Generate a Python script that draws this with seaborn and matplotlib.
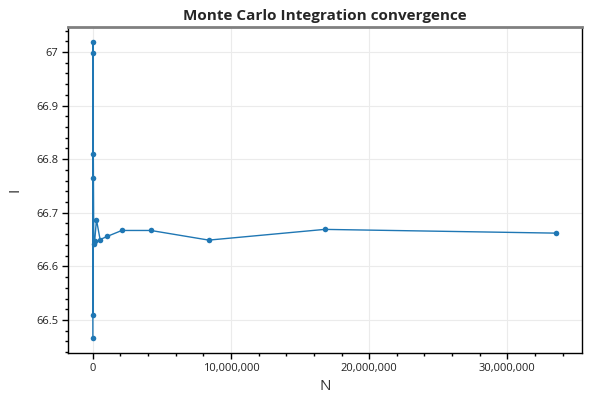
import matplotlib
matplotlib.use("Agg")
import matplotlib.pyplot as plt
import seaborn as sns
import pandas as pd
from matplotlib.ticker import AutoMinorLocator, FuncFormatter, MultipleLocator

N = [1024, 2048, 4096, 8192, 16384, 32768, 65536, 131072, 262144, 524288,
     1048576, 2097152, 4194304, 8388608, 16777216, 33554432]
I = [66.466, 67.019, 66.510, 66.998, 66.765, 66.810, 66.642, 66.647, 66.687, 66.650,
     66.656, 66.667, 66.667, 66.649, 66.669, 66.662]

df = pd.DataFrame({"N": N, "I": I})

sns.set_style("white")
plt.rcParams['font.family'] = ['Open Sans', 'DejaVu Sans']

fig = plt.figure(figsize=(6, 4), dpi=100)
ax = fig.add_axes([0.1133, 0.1175, 0.8567, 0.815])

sns.lineplot(data=df, x="N", y="I", ax=ax, color="#1f77b4", linewidth=1,
             marker="o", markersize=4, markeredgewidth=0, sort=False)

ax.set_xlim(-1.8e6, 35.4e6)
ax.grid(True, which="major", color="#ebebeb", linewidth=0.8)
ax.set_axisbelow(True)
ax.xaxis.set_major_locator(MultipleLocator(1e7))
ax.xaxis.set_major_formatter(FuncFormatter(lambda v, p: f"{int(round(v)):,}"))
ax.yaxis.set_major_locator(MultipleLocator(0.1))
ax.yaxis.set_major_formatter(FuncFormatter(lambda v, p: f"{v:g}"))
ax.xaxis.set_minor_locator(AutoMinorLocator(5))
ax.yaxis.set_minor_locator(AutoMinorLocator(5))
ax.tick_params(which="major", direction="out", length=4, width=1, color="black",
               labelsize=8, labelcolor="#222222", bottom=True, left=True, pad=3)
ax.tick_params(which="minor", direction="out", length=2.5, width=1, color="black",
               bottom=True, left=True)

for s in ["left", "bottom", "right"]:
    ax.spines[s].set_color("black")
    ax.spines[s].set_linewidth(1)
ax.spines["top"].set_color("#808080")
ax.spines["top"].set_linewidth(2)

ax.set_xlabel("N", fontsize=11, color="#333333", labelpad=4)
ax.set_ylabel("I", fontsize=11, color="#333333", labelpad=10)
ax.set_title("Monte Carlo Integration convergence", fontsize=11, fontweight="bold", pad=5)

fig.savefig("out.png", dpi=100)
